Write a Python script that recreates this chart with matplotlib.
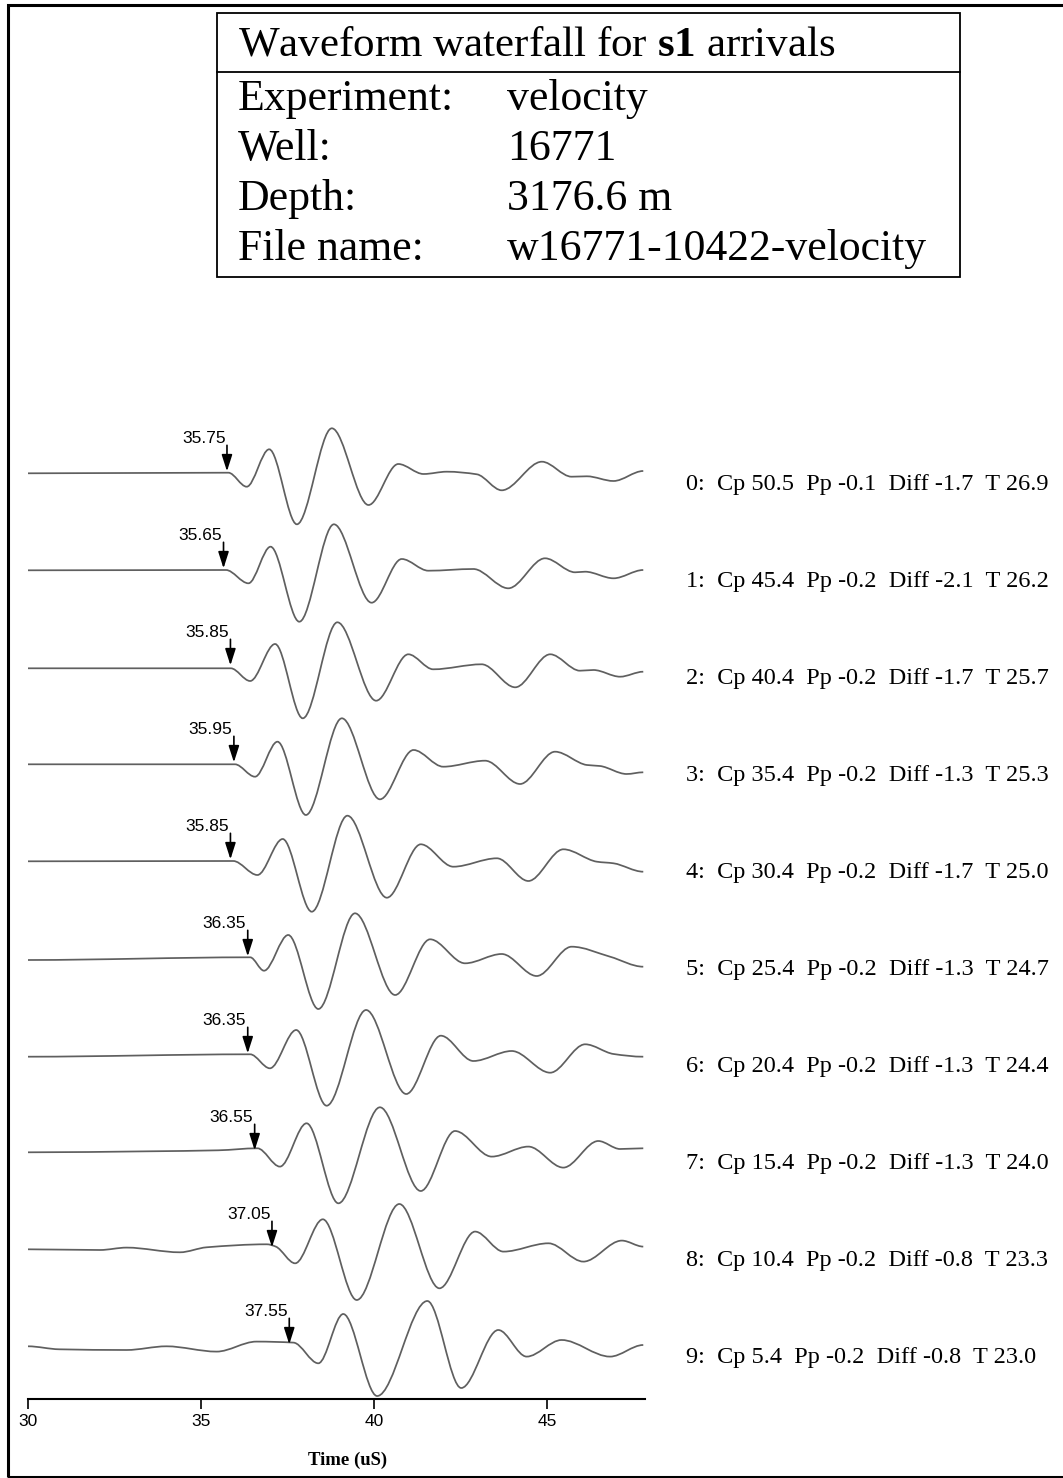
import matplotlib
matplotlib.use("Agg")
import matplotlib.pyplot as plt
from matplotlib.path import Path
from matplotlib.patches import PathPatch, Rectangle
from matplotlib.lines import Line2D

# ---- data ------------------------------------------------------------------
PICKS = [35.75, 35.65, 35.85, 35.95, 35.85, 36.35, 36.35, 36.55, 37.05, 37.55]
PICK_LABELS = ["35.75", "35.65", "35.85", "35.95", "35.85",
               "36.35", "36.35", "36.55", "37.05", "37.55"]
CP = [50.5, 45.4, 40.4, 35.4, 30.4, 25.4, 20.4, 15.4, 10.4, 5.4]
PP = [-0.1, -0.2, -0.2, -0.2, -0.2, -0.2, -0.2, -0.2, -0.2, -0.2]
DIFF = [-1.7, -2.1, -1.7, -1.3, -1.7, -1.3, -1.3, -1.3, -0.8, -0.8]
TEMP = [26.9, 26.2, 25.7, 25.3, 25.0, 24.7, 24.4, 24.0, 23.3, 23.0]

# turning points of each waveform: time (uS) and amplitude (arbitrary units)
T0 = [30.0, 35.79, 36.32, 36.97, 37.77, 38.78, 39.84, 40.70, 41.43, 42.10,
      42.97, 43.69, 44.85, 45.71, 46.15, 46.92, 47.78]
A0 = [0, 0.6, -13.4, 24, -51, 45, -31.7, 9.3, -0.7, 1.6,
      -1, -17, 11.6, -3.4, -3, -7.7, 2.3]
T1 = [30.0, 35.72, 36.37, 37.01, 37.84, 38.84, 39.93, 40.80, 41.57, 42.87,
      43.88, 44.94, 45.81, 46.10, 46.92, 47.78]
A1 = [0, 0.3, -13, 23.6, -51.4, 46, -32.4, 11.3, -0.4, 1.3,
      -18, 12, -2, -1.4, -8, 0.3]
T2 = [30.0, 35.86, 36.42, 37.14, 37.94, 38.94, 40.06, 40.99, 41.71, 43.11,
      44.08, 45.09, 45.95, 46.34, 47.11, 47.78]
A2 = [-1, -1, -13.7, 23.3, -51, 45, -33.4, 13, -2, 3,
      -20, 13, -3.4, -2.7, -9.4, -4.4]
T3 = [30.0, 35.98, 36.56, 37.21, 38.03, 39.07, 40.17, 41.14, 42.00, 43.21,
      44.22, 45.23, 46.15, 46.53, 47.30, 47.78]
A3 = [0, 0, -12.4, 22.6, -50.7, 46, -35, 14.3, -2.4, 3.6,
      -19.7, 12.6, -0.7, -1.7, -9.7, -8]
T4 = [30.0, 35.93, 36.63, 37.36, 38.20, 39.23, 40.37, 41.35, 42.29, 43.55,
      44.46, 45.47, 46.44, 46.92, 47.78]
A4 = [0, 0.3, -13.7, 22.3, -50.4, 45.6, -36.4, 17, -5.4, 3,
      -19.7, 12, -0.4, -2, -10.4]
T5 = [30.0, 36.42, 36.82, 37.52, 38.39, 39.45, 40.61, 41.62, 42.63, 43.69,
      44.70, 45.71, 46.82, 47.78]
A5 = [-1.7, 1, -12.4, 23.3, -50.7, 45, -36.7, 19, -5, 4.3,
      -17.7, 11.6, 1.6, -8.4]
T6 = [30.0, 36.42, 36.99, 37.75, 38.63, 39.77, 40.93, 41.93, 42.87, 43.98,
      45.09, 46.10, 46.92, 47.78]
A6 = [-1.4, 1, -13, 25.3, -50.4, 45.3, -38.7, 19.6, -5.7, 4.3,
      -17.4, 11, 1.3, -1.4]
T7 = [30.0, 33.5, 35.5, 36.63, 37.28, 38.05, 38.97, 40.17, 41.35, 42.34,
      43.40, 44.46, 45.47, 46.48, 47.11, 47.78]
A7 = [0, 1, 2, 4, -14.3, 29, -51, 45, -38.7, 21.3,
      -4.3, 5.7, -15.3, 11.3, 3.3, 4]
T8 = [30.0, 32.08, 32.85, 34.39, 35.16, 36.90, 37.16, 37.72, 38.52, 39.50,
      40.73, 41.89, 42.92, 43.74, 45.04, 46.05, 47.16, 47.78]
A8 = [0, -0.7, 1.7, -3, 2, 5, 2.7, -14, 30, -50.7,
      45.3, -39, 17.7, -2.3, 6, -12.3, 8.7, 2.7]
T9 = [30.0, 30.9, 32.85, 34.0, 35.45, 36.6, 37.67, 38.39, 39.11, 40.09,
      41.54, 42.52, 43.59, 44.41, 45.42, 46.82, 47.78]
A9 = [0, -3, -3.7, 0, -5.3, 4.7, 3.7, -17, 32.3, -49.7,
      45.3, -41.7, 16.3, -10.3, 6.3, -10.3, 1.3]

TIMES = [T0, T1, T2, T3, T4, T5, T6, T7, T8, T9]
AMPS = [A0, A1, A2, A3, A4, A5, A6, A7, A8, A9]

HEADER_KEYS = ["Experiment:", "Well:", "Depth:", "File name:"]
HEADER_VALS = ["velocity", "16771", "3176.6 m", "w16771-10422-velocity"]
XTICKS = [30, 35, 40, 45]

# ---- layout ----------------------------------------------------------------
W, H = 1063, 1478
SPACING = 97          # vertical gap between traces (axis units = pixels)
TOP_BASE = 925.7      # baseline of trace 0
TRACE_COLOR = "#5f5f5f"
SERIF = "Liberation Serif"
SANS = "Liberation Sans"

plt.rcParams["mathtext.fontset"] = "custom"
plt.rcParams["mathtext.rm"] = SERIF
plt.rcParams["mathtext.bf"] = SERIF + ":bold"


def fx(px):
    return px / W


def fy(py):
    return 1 - py / H


def smooth_path(ts, ys):
    # cubic bezier through the turning points, flat at local extrema
    n = len(ts)
    slope = [0.0] * n
    for i in range(1, n - 1):
        d0 = (ys[i] - ys[i - 1]) / (ts[i] - ts[i - 1])
        d1 = (ys[i + 1] - ys[i]) / (ts[i + 1] - ts[i])
        if d0 * d1 > 0:
            slope[i] = 2 * d0 * d1 / (d0 + d1)
    verts = [(ts[0], ys[0])]
    codes = [Path.MOVETO]
    for i in range(n - 1):
        h = (ts[i + 1] - ts[i]) / 3
        verts += [(ts[i] + h, ys[i] + slope[i] * h),
                  (ts[i + 1] - h, ys[i + 1] - slope[i + 1] * h),
                  (ts[i + 1], ys[i + 1])]
        codes += [Path.CURVE4] * 3
    return Path(verts, codes)


fig = plt.figure(figsize=(W / 100, H / 100), dpi=100)
ax = fig.add_axes([fx(28), fy(1399), (645 - 28) / W, (1399 - 380) / H])
ax.set_xlim(30, 47.83)
ax.set_ylim(0, 1019)

for i in range(len(TIMES)):
    base = TOP_BASE - i * SPACING
    ys = [base + a for a in AMPS[i]]
    ax.add_patch(PathPatch(smooth_path(TIMES[i], ys), fill=False,
                           edgecolor=TRACE_COLOR, lw=1.25))

    # arrival pick arrow + value
    ax.annotate("", xy=(PICKS[i], base + 2), xytext=(PICKS[i], base + 28),
                arrowprops=dict(arrowstyle="-|>,head_length=1.0,head_width=0.32",
                                color="black", lw=1.2, shrinkA=0, shrinkB=0))
    ax.annotate(PICK_LABELS[i], xy=(PICKS[i], base + 30), xytext=(-1, 0),
                textcoords="offset points", ha="right", va="baseline",
                fontsize=12.5, family=SANS)

    label = (f"{i}:  Cp {CP[i]:.1f}  Pp {PP[i]:.1f}  "
             f"Diff {DIFF[i]:.1f}  T {TEMP[i]:.1f}")
    ax.text(49.02, base - 11, label, ha="left", va="center",
            fontsize=17.5, family=SERIF)

for side in ["left", "right", "top"]:
    ax.spines[side].set_visible(False)
ax.spines["bottom"].set_linewidth(1.5)
ax.set_yticks([])
ax.set_xticks(XTICKS)
ax.set_xticklabels([str(t) for t in XTICKS], family=SANS)
ax.tick_params(axis="x", length=7, width=1.2, direction="out",
               labelsize=12.5, pad=4)

fig.text(fx(348), fy(1460), "Time (uS)", ha="center", va="center",
         fontsize=13.5, fontweight="bold", family=SERIF)

# header box
fig.add_artist(Rectangle((fx(217), fy(277)), (960 - 217) / W, (277 - 13) / H,
                         transform=fig.transFigure, fill=False,
                         edgecolor="black", lw=1.3))
fig.add_artist(Line2D([fx(217), fx(960)], [fy(72), fy(72)],
                      transform=fig.transFigure, color="black", lw=1.3))
fig.text(fx(238), fy(55), r"Waveform waterfall for $\mathbf{s1}$ arrivals",
         ha="left", va="baseline", fontsize=31, family=SERIF)
for j, (key, val) in enumerate(zip(HEADER_KEYS, HEADER_VALS)):
    yb = 110 + j * 50
    fig.text(fx(238), fy(yb), key, ha="left", va="baseline",
             fontsize=31.5, family=SERIF)
    fig.text(fx(507), fy(yb), val, ha="left", va="baseline",
             fontsize=31.5, family=SERIF)

# outer frame
fig.add_artist(Rectangle((fx(8), fy(1477)), (1070 - 8) / W, (1477 - 4.5) / H,
                         transform=fig.transFigure, fill=False,
                         edgecolor="black", lw=2.2))

fig.savefig("out.png", dpi=100, facecolor="white")
